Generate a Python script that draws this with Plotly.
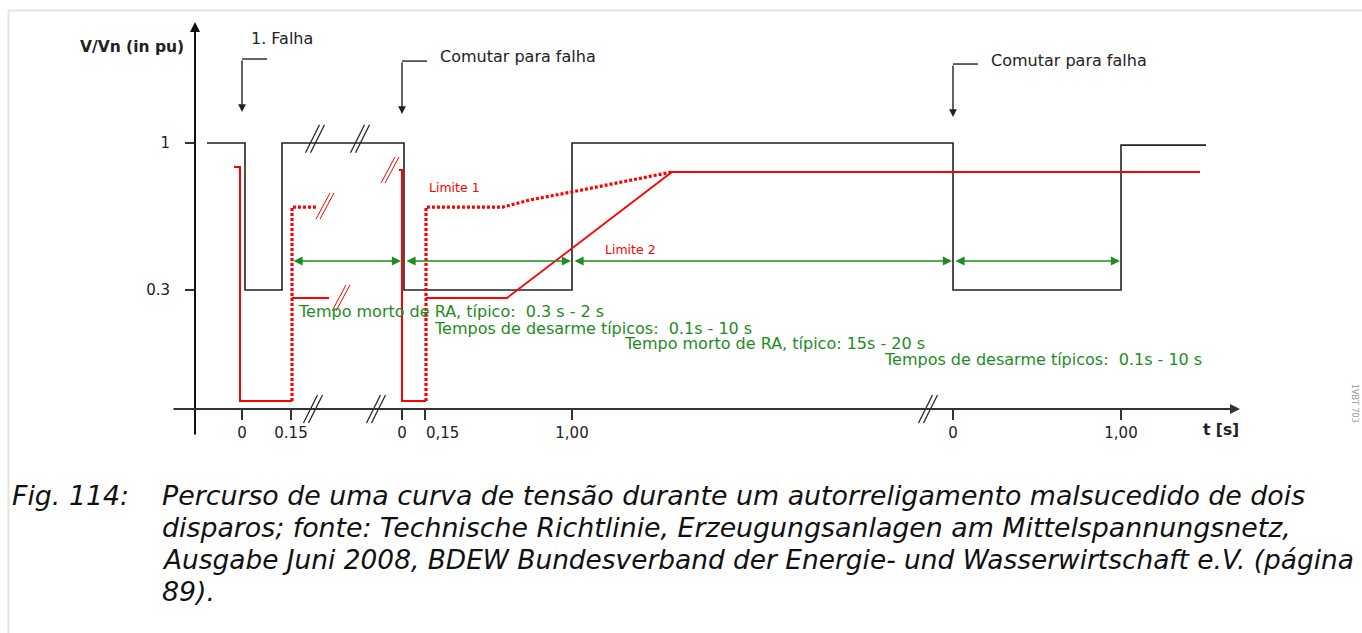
import plotly.graph_objects as go

# ---- schematic values -------------------------------------------------------
# horizontal positions along the (broken) time axis, vertical values in pu
BLACK_X = [207, 245, 245, 282, 282, 404, 404, 572, 572, 953, 953, 1121, 1121, 1206]
BLACK_V = [1.0, 1.0, 0.3, 0.3, 1.0, 1.0, 0.3, 0.3, 1.0, 1.0, 0.3, 0.3, 0.99, 0.99]

RED1_X = [234, 240, 240, 292]
RED1_V = [0.886, 0.886, -0.229, -0.229]
RED1_DOT_X = [292, 292, 316]
RED1_DOT_V = [-0.229, 0.695, 0.695]
RED1_LOW_X = [292, 329]
RED1_LOW_V = [0.262, 0.262]

RED2_X = [399, 402, 402, 426]
RED2_V = [0.871, 0.871, -0.229, -0.229]
LIM1_X = [426, 426, 503, 530, 572, 620, 672]
LIM1_V = [-0.229, 0.695, 0.695, 0.729, 0.767, 0.814, 0.862]
LIM2_X = [426, 507, 672, 1200]
LIM2_V = [0.262, 0.262, 0.862, 0.862]

TICK_POS = [242, 291, 402, 425, 572, 953, 1121]
TICK_TEXT = ["0", "0.15", "0", "0,15", "1,00", "0", "1,00"]
# labels set beside (not centred under) their tick
TICK_LEFT_ALIGNED = {"0,15"}
Y_TICKS = [1.0, 0.3]
Y_TICK_TEXT = ["1", "0.3"]

# interval arrows (start, end) and their level
SPANS = [(292, 401), (405, 571), (573, 952), (954, 1120)]
SPAN_V = 0.438
SPAN_LABELS = [
    (296, 0.200, "Tempo morto de RA, típico:\u00a0 0.3 s - 2 s"),
    (432, 0.119, "Tempos de desarme típicos:\u00a0 0.1s - 10 s"),
    (622, 0.043, "Tempo morto de RA, típico: 15s - 20 s"),
    (882, -0.033, "Tempos de desarme típicos:\u00a0 0.1s - 10 s"),
]

# fault markers: (x, top, tip, label x, label level, label, anchor)
EVENTS = [
    (242, 1.400, 1.148, 282, 1.500, "1. Falha", "center"),
    (402, 1.390, 1.138, 438, 1.414, "Comutar para falha", "left"),
    (953, 1.376, 1.124, 989, 1.395, "Comutar para falha", "left"),
]

CAPTION_LINES = [
    "Percurso de uma curva de tensão durante um autorreligamento malsucedido de dois",
    "disparos; fonte: Technische Richtlinie, Erzeugungsanlagen am Mittelspannungsnetz,",
    "Ausgabe Juni 2008, BDEW Bundesverband der Energie- und Wasserwirtschaft e.V. (página",
    "89).",
]
CAPTION_SIZES = [26.8, 26.8, 26.4, 26.8]

W, H = 1362, 633
PU_PX = 210.0            # pixels per pu on the vertical scale
Y_TOP = 1 + 143 / PU_PX
Y_BOT = 1 - (H - 143) / PU_PX
AXIS_V = -0.2667         # level of the time axis
PX = 1 / PU_PX

BLACK = "#222222"
RED = "#ff0000"
GREEN = "#1e8c1e"
FONT = "DejaVu Sans"

fig = go.Figure()


def line(x, y, color, width, dash="solid"):
    fig.add_trace(go.Scatter(x=x, y=y, mode="lines", hoverinfo="skip",
                             line=dict(color=color, width=width, dash=dash)))


# voltage curve
line(BLACK_X, BLACK_V, BLACK, 1.6)

# red limit curves
line(RED1_X, RED1_V, RED, 2)
line(RED1_DOT_X, RED1_DOT_V, RED, 3.2, "3px,2px")
line(RED1_LOW_X, RED1_LOW_V, RED, 2)
line(RED2_X, RED2_V, RED, 2)
line(LIM1_X, LIM1_V, RED, 3.2, "3px,2px")
line(LIM2_X, LIM2_V, RED, 1.8)


def breaks(centers, color, width, hx=7, hy=14, gap=2.5):
    xs, ys = [], []
    for cx, cv in centers:
        for off in (-gap, gap):
            xs += [cx - hx + off, cx + hx + off, None]
            ys += [cv - hy * PX, cv + hy * PX, None]
    line(xs, ys, color, width)


breaks([(315, 1.02), (360, 1.02)], BLACK, 1.2)
breaks([(313, AXIS_V), (376, AXIS_V), (928, AXIS_V)], BLACK, 1.2)
breaks([(390, 0.871), (325, 0.700), (341, 0.262)], RED, 1.0, hx=7, hy=13, gap=2)

annotations = []


def arrow(x0, y0, x1, y1, color, width, head=2, size=1.0, both=False):
    annotations.append(dict(
        x=x1, y=y1, ax=x0, ay=y0, xref="x", yref="y", axref="x", ayref="y",
        text="", showarrow=True, arrowhead=head, arrowsize=size,
        arrowwidth=width, arrowcolor=color, standoff=0, startstandoff=0,
        startarrowhead=head, startarrowsize=size,
        arrowside="end+start" if both else "end"))


# axes with arrow tips
arrow(195, 1 - 293 * PX, 195, 1.576, "#111111", 2, head=2, size=1.0)
arrow(172, AXIS_V, 1240, AXIS_V, "#333333", 2, head=2, size=1.0)

# time-axis labels that sit to the right of their tick
axis_text = []
for pos, txt in zip(TICK_POS, TICK_TEXT):
    if txt in TICK_LEFT_ALIGNED:
        axis_text.append("")
        annotations.append(dict(x=pos - 1, y=1 - 290 * PX, xref="x", yref="y", text=txt,
                                showarrow=False, xanchor="left", yanchor="middle",
                                font=dict(family=FONT, size=15, color=BLACK)))
    else:
        axis_text.append(txt)

# interval arrows
for x0, x1 in SPANS:
    arrow(x0, SPAN_V, x1, SPAN_V, GREEN, 1.4, head=2, size=1.3, both=True)

for x, v, txt in SPAN_LABELS:
    annotations.append(dict(x=x, y=v, xref="x", yref="y", text=txt, showarrow=False,
                            xanchor="left", yanchor="middle",
                            font=dict(family=FONT, size=16, color=GREEN)))

# fault markers
for ex, top, tip, lx, lv, txt, anc in EVENTS:
    line([ex, ex + 25], [top, top], BLACK, 1.4)
    arrow(ex, top, ex, tip, BLACK, 1.4, head=2, size=1.1)
    annotations.append(dict(x=lx, y=lv, xref="x", yref="y", text=txt, showarrow=False,
                            xanchor=anc, yanchor="middle",
                            font=dict(family=FONT, size=16, color=BLACK)))

# limit labels
annotations.append(dict(x=427, y=0.790, xref="x", yref="y", text="Limite 1", showarrow=False,
                        xanchor="left", yanchor="middle",
                        font=dict(family=FONT, size=12.5, color=RED)))
annotations.append(dict(x=603, y=0.495, xref="x", yref="y", text="Limite 2", showarrow=False,
                        xanchor="left", yanchor="middle",
                        font=dict(family=FONT, size=12.5, color=RED)))

# axis titles
annotations.append(dict(x=132, y=1.457, xref="x", yref="y", text="<b>V/Vn (in pu)</b>",
                        showarrow=False, xanchor="center", yanchor="middle",
                        font=dict(family=FONT, size=15.5, color=BLACK)))
annotations.append(dict(x=1221, y=1 - 287 * PX, xref="x", yref="y", text="<b>t [s]</b>",
                        showarrow=False, xanchor="center", yanchor="middle",
                        font=dict(family=FONT, size=15.5, color=BLACK)))

# figure caption
annotations.append(dict(x=10 / W, y=1 - 495 / H, xref="paper", yref="paper", text="Fig. 114:",
                        showarrow=False, xanchor="left", yanchor="middle",
                        font=dict(family=FONT, size=26.8, color="#111111", style="italic")))
for i, (txt, size) in enumerate(zip(CAPTION_LINES, CAPTION_SIZES)):
    annotations.append(dict(x=160 / W, y=1 - (495 + 32 * i) / H, xref="paper", yref="paper",
                            text=txt, showarrow=False, xanchor="left", yanchor="middle",
                            font=dict(family=FONT, size=size, color="#111111", style="italic")))

# document id along the right edge
annotations.append(dict(x=1354 / W, y=1 - 403 / H, xref="paper", yref="paper", text="1VBT 703",
                        showarrow=False, textangle=90, xanchor="center", yanchor="middle",
                        font=dict(family=FONT, size=8, color="#9a9a9a")))

# page frame
shapes = [
    dict(type="line", xref="paper", yref="paper", x0=8 / W, x1=1, y0=1 - 10.5 / H, y1=1 - 10.5 / H,
         line=dict(color="#e4e4e4", width=2)),
    dict(type="line", xref="paper", yref="paper", x0=8.5 / W, x1=8.5 / W, y0=0, y1=1 - 10 / H,
         line=dict(color="#e4e4e4", width=2)),
]

fig.update_layout(
    width=W, height=H, margin=dict(l=0, r=0, t=0, b=0),
    paper_bgcolor="white", plot_bgcolor="white", showlegend=False,
    annotations=annotations, shapes=shapes,
    xaxis=dict(range=[0, W], showgrid=False, zeroline=False, showline=False,
               anchor="free", position=(AXIS_V - Y_BOT) / (Y_TOP - Y_BOT),
               tickmode="array", tickvals=TICK_POS, ticktext=axis_text, tickangle=0,
               ticks="outside", ticklen=10, tickwidth=2, tickcolor="#333333",
               tickfont=dict(family=FONT, size=15, color=BLACK), fixedrange=True),
    yaxis=dict(range=[Y_BOT, Y_TOP], showgrid=False, zeroline=False, showline=False,
               anchor="free", position=195 / W,
               tickmode="array", tickvals=Y_TICKS, ticktext=Y_TICK_TEXT,
               ticks="outside", ticklen=10, tickwidth=2, tickcolor="#333333",
               tickfont=dict(family=FONT, size=15, color=BLACK), ticklabelstandoff=12,
               fixedrange=True),
)

fig.write_html("out.html")
